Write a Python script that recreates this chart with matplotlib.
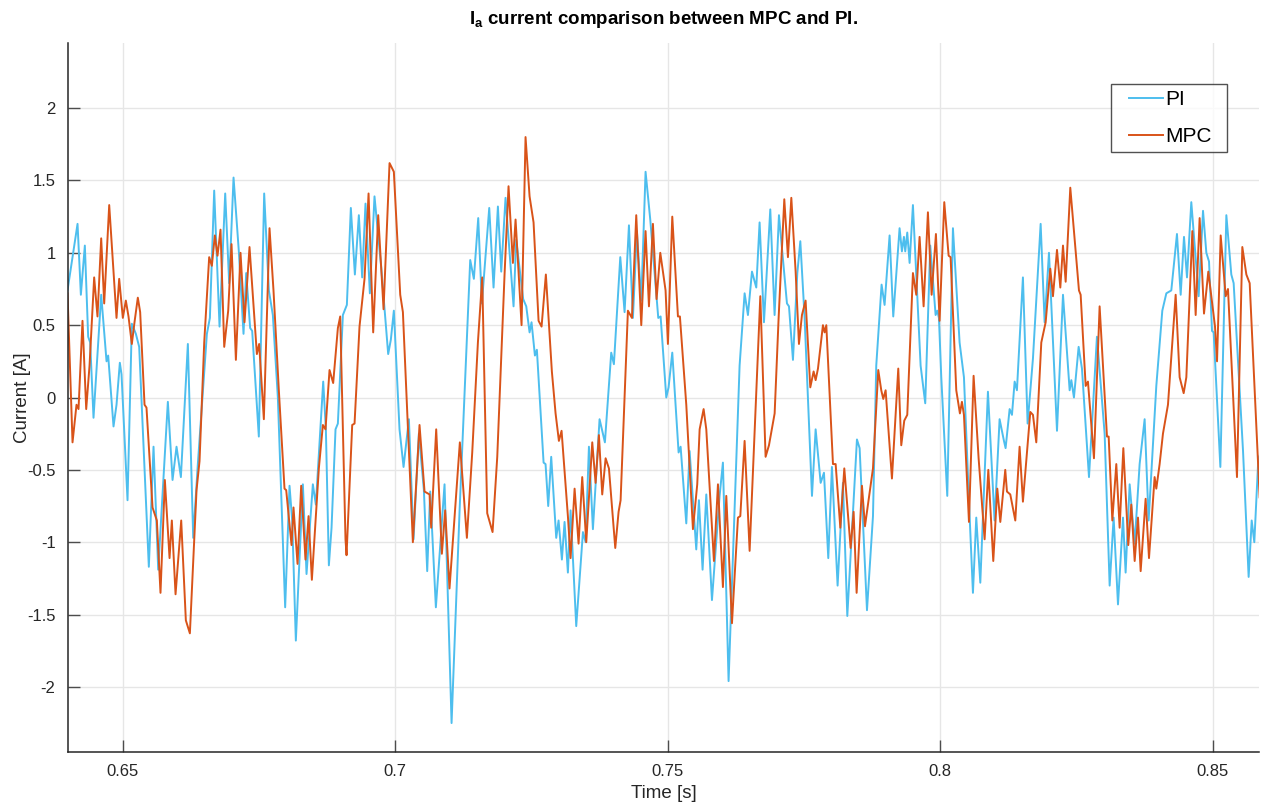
import numpy as np
import matplotlib
matplotlib.use('Agg')
import matplotlib.pyplot as plt
from matplotlib.ticker import FuncFormatter
from matplotlib.legend_handler import HandlerLine2D
from matplotlib.lines import Line2D
from matplotlib.path import Path

plt.rcParams['font.family'] = ['Liberation Sans', 'DejaVu Sans']
plt.rcParams['axes.unicode_minus'] = False
plt.rcParams['mathtext.fontset'] = 'custom'
plt.rcParams['mathtext.bf'] = 'Liberation Sans:bold'
plt.rcParams['mathtext.rm'] = 'Liberation Sans'

# PI current, time in ms
pi_t = [639.91, 641.75, 642.36, 643.09, 643.70, 644.07, 644.68, 646.09, 647.07, 647.37,
        648.35, 648.90, 649.51, 649.82, 650.92, 651.71, 652.45, 653.06, 654.83, 655.69,
        656.55, 658.32, 659.18, 659.91, 660.71, 661.99, 662.97, 663.82, 665.48, 666.03,
        666.82, 667.80, 668.84, 669.57, 670.37, 671.34, 672.20, 672.69, 673.42, 673.79,
        675.01, 675.99, 676.85, 677.58, 678.50, 679.84, 680.64, 681.13, 681.80, 682.66,
        683.09, 683.76, 684.92, 685.47, 686.82, 687.31, 687.86, 688.35, 689.08, 689.51,
        690.43, 691.16, 691.89, 692.63, 693.36, 693.97, 694.58, 695.38, 696.23, 697.46,
        698.74, 699.23, 699.78, 700.82, 701.56, 702.54, 703.39, 704.37, 705.29, 705.90,
        706.45, 707.49, 709.08, 710.37, 711.83, 713.79, 714.46, 715.26, 715.93, 717.28,
        718.07, 718.87, 719.48, 720.27, 721.74, 722.23, 723.51, 724.07, 724.68, 725.04,
        725.66, 726.02, 727.25, 727.61, 728.10, 728.65, 729.57, 730.00, 730.61, 731.10,
        731.71, 732.20, 733.24, 734.47, 734.96, 735.57, 736.30, 737.52, 738.50, 739.66,
        740.15, 741.32, 742.11, 742.91, 743.64, 744.37, 745.17, 745.96, 746.82, 748.29,
        748.72, 749.76, 750.18, 750.86, 752.02, 752.39, 753.43, 754.04, 755.26, 755.75,
        756.42, 757.10, 758.14, 759.54, 760.15, 761.19, 761.99, 763.21, 764.13, 764.74,
        765.48, 766.27, 766.88, 767.68, 768.84, 769.63, 770.43, 771.90, 772.27, 773.00,
        773.80, 774.35, 775.14, 776.49, 777.16, 778.08, 778.69, 779.48, 780.15, 781.19,
        782.17, 782.97, 784.74, 785.23, 786.58, 787.68, 788.28, 789.26, 789.81, 790.73,
        791.40, 792.56, 792.99, 793.36, 793.60, 793.97, 794.40, 795.01, 796.42, 797.27,
        798.19, 799.17, 799.48, 799.78, 800.21, 801.31, 802.35, 803.57, 804.37, 805.41,
        806.02, 806.63, 807.37, 808.77, 809.99, 810.91, 811.71, 812.01, 812.75, 813.18,
        813.67, 814.09, 815.19, 816.05, 817.03, 818.44, 819.17, 819.97, 821.44, 822.54,
        823.76, 824.07, 824.55, 825.41, 826.02, 827.31, 828.77, 830.18, 831.10, 831.83,
        832.63, 833.55, 834.03, 834.77, 835.69, 836.60, 837.52, 838.25, 839.66, 840.76,
        841.50, 842.41, 843.45, 844.13, 844.74, 845.29, 846.08, 847.43, 848.23, 848.84,
        849.33, 849.88, 850.18, 851.41, 852.51, 853.42, 853.85, 855.57, 856.60, 857.16,
        857.64, 858.38, 858.62]
pi_i = [0.74, 1.20, 0.71, 1.05, 0.42, 0.38, -0.14, 0.71, 0.25, 0.29,
        -0.20, -0.05, 0.24, 0.16, -0.71, 0.51, 0.44, 0.35, -1.17, -0.34,
        -1.19, -0.03, -0.57, -0.34, -0.55, 0.37, -0.97, -0.46, 0.44, 0.55,
        1.43, 0.49, 1.41, 0.79, 1.52, 1.01, 0.44, 0.86, 0.48, 0.46,
        -0.27, 1.41, 0.74, 0.57, 0.00, -1.45, -0.61, -0.85, -1.68, -0.96,
        -0.60, -1.22, -0.60, -0.74, 0.11, -0.22, -1.16, -0.90, -0.22, -0.18,
        0.57, 0.64, 1.31, 0.85, 1.26, 0.83, 1.34, 0.72, 1.39, 0.90,
        0.30, 0.40, 0.60, -0.22, -0.48, -0.15, -0.98, -0.25, -0.64, -1.20,
        -0.65, -1.45, -0.60, -2.25, -0.79, 0.95, 0.82, 1.24, 0.65, 1.31,
        0.76, 1.32, 0.87, 1.38, 0.63, 1.09, 0.68, 0.63, 0.45, 0.52,
        0.29, 0.33, -0.45, -0.46, -0.75, -0.41, -0.97, -0.85, -1.12, -0.86,
        -1.21, -0.78, -1.58, -0.93, -1.00, -0.34, -0.91, -0.15, -0.31, 0.31,
        0.23, 0.97, 0.59, 1.19, 0.55, 1.15, 0.67, 1.56, 1.23, 0.55,
        0.56, 0.00, 0.07, 0.31, -0.38, -0.34, -0.87, -0.37, -1.05, -0.71,
        -1.19, -0.67, -1.40, -0.68, -0.45, -1.96, -1.09, 0.22, 0.72, 0.57,
        0.87, 0.76, 1.21, 0.52, 1.30, 0.57, 1.26, 0.65, 0.63, 0.26,
        0.86, 1.08, 0.55, -0.68, -0.22, -0.59, -0.52, -1.11, -0.48, -1.30,
        -0.59, -1.51, -0.29, -0.35, -1.47, -0.82, 0.22, 0.78, 0.64, 1.12,
        0.56, 1.17, 1.01, 1.11, 1.01, 1.14, 0.93, 1.33, 0.22, -0.04,
        1.05, 0.57, 0.60, 0.55, 0.14, -0.68, 1.17, 0.38, 0.14, -0.82,
        -1.35, -0.83, -1.28, 0.04, -0.85, -0.15, -0.30, -0.35, -0.08, -0.12,
        0.11, 0.05, 0.83, -0.18, 0.27, 1.20, 0.52, 1.00, -0.23, 0.71,
        0.05, 0.12, 0.00, 0.35, 0.20, -0.55, 0.42, -0.25, -1.30, -0.83,
        -1.43, -0.83, -1.21, -0.60, -1.01, -0.46, -0.15, -0.85, 0.08, 0.60,
        0.72, 0.74, 1.13, 0.71, 1.11, 0.83, 1.35, 0.70, 1.29, 1.00,
        0.94, 0.46, 0.45, -0.48, 1.26, 0.85, 0.79, -0.37, -1.24, -0.85,
        -1.00, -0.42, -0.40]

# MPC current, time in ms
mpc_t = [639.91, 640.83, 641.56, 641.93, 642.66, 643.34, 643.95, 644.80, 645.41, 646.09,
         646.64, 647.56, 648.90, 649.39, 650.06, 650.61, 651.10, 651.71, 652.20, 652.81,
         653.24, 654.04, 654.40, 655.51, 656.30, 656.97, 657.77, 658.63, 659.05, 659.73,
         660.77, 661.62, 662.36, 663.58, 664.13, 664.99, 665.90, 666.39, 666.94, 667.43,
         667.98, 668.66, 669.39, 670.00, 670.80, 671.65, 672.38, 673.30, 674.65, 675.07,
         675.93, 676.97, 677.70, 678.68, 679.72, 680.03, 681.01, 681.37, 682.11, 682.78,
         683.57, 684.13, 684.74, 686.02, 686.76, 687.24, 687.98, 688.65, 689.51, 689.94,
         690.91, 691.10, 692.14, 692.57, 693.48, 694.40, 695.14, 695.99, 696.91, 697.89,
         698.99, 699.78, 700.95, 701.44, 703.27, 704.49, 705.41, 706.33, 706.63, 707.55,
         708.59, 709.20, 709.99, 711.89, 713.18, 714.16, 715.20, 715.99, 716.91, 717.89,
         718.75, 720.09, 720.82, 721.62, 722.11, 723.21, 723.94, 724.68, 725.41, 726.33,
         726.88, 727.67, 728.77, 729.45, 730.06, 730.55, 731.71, 732.20, 732.94, 733.67,
         734.34, 735.08, 736.18, 736.79, 737.40, 738.01, 738.63, 739.24, 740.40, 741.01,
         741.38, 742.72, 743.46, 744.25, 745.17, 745.96, 746.58, 747.31, 747.98, 748.66,
         749.63, 750.06, 750.86, 751.90, 752.26, 753.43, 754.65, 755.44, 755.88, 756.61,
         757.10, 758.50, 759.24, 760.15, 760.77, 761.81, 762.91, 763.34, 764.13, 765.05,
         767.01, 767.98, 768.60, 769.64, 770.37, 771.41, 772.08, 772.70, 773.49, 774.10,
         774.65, 775.32, 776.18, 776.79, 777.16, 777.59, 778.50, 778.81, 779.12, 780.34,
         780.83, 781.69, 782.42, 783.58, 784.13, 784.68, 785.66, 786.21, 787.68, 788.65,
         789.20, 789.57, 790.00, 791.16, 792.32, 792.87, 793.42, 793.97, 795.01, 795.62,
         796.23, 796.97, 797.76, 798.44, 799.23, 799.90, 800.76, 801.56, 801.92, 802.96,
         803.63, 804.00, 804.37, 805.29, 806.14, 807.06, 808.16, 808.84, 809.75, 810.49,
         811.04, 811.95, 812.26, 812.87, 813.79, 814.58, 815.19, 816.54, 817.03, 817.64,
         818.56, 819.36, 820.21, 820.70, 821.44, 822.05, 822.54, 823.03, 823.88, 825.47,
         825.78, 826.70, 827.12, 828.22, 829.26, 830.61, 830.92, 831.59, 832.32, 832.93,
         833.61, 834.52, 835.07, 835.69, 836.30, 836.79, 837.70, 838.32, 839.35, 839.66,
         840.27, 840.88, 841.80, 843.21, 843.94, 844.68, 845.17, 846.27, 846.88, 847.61,
         848.41, 849.20, 850.43, 850.80, 851.47, 852.39, 852.81, 854.46, 855.44, 856.18,
         856.79, 858.62]
mpc_i = [0.72, -0.31, -0.05, -0.08, 0.53, -0.08, 0.22, 0.83, 0.56, 1.10,
         0.65, 1.33, 0.55, 0.82, 0.55, 0.67, 0.56, 0.37, 0.52, 0.69,
         0.59, -0.05, -0.07, -0.76, -0.85, -1.35, -0.57, -1.11, -0.85, -1.36,
         -0.85, -1.54, -1.63, -0.64, -0.44, 0.38, 0.97, 0.91, 1.12, 0.98,
         1.16, 0.35, 0.60, 1.06, 0.26, 1.00, 0.52, 1.04, 0.30, 0.37,
         -0.15, 1.17, 0.74, 0.05, -0.63, -0.64, -1.02, -0.76, -1.15, -0.61,
         -1.12, -0.82, -1.26, -0.49, -0.19, -0.22, 0.19, 0.10, 0.48, 0.56,
         -0.98, -1.09, -0.19, -0.18, 0.49, 0.82, 1.41, 0.45, 1.26, 0.61,
         1.62, 1.56, 0.71, 0.59, -1.00, -0.19, -0.65, -0.67, -0.90, -0.22,
         -1.08, -0.78, -1.32, -0.31, -0.97, -0.38, 0.38, 0.83, -0.80, -0.93,
         -0.41, 0.85, 1.46, 0.93, 1.23, 0.50, 1.80, 1.39, 1.21, 0.53,
         0.49, 0.85, 0.18, -0.11, -0.30, -0.23, -0.82, -1.11, -0.63, -1.01,
         -0.55, -1.00, -0.31, -0.59, -0.26, -0.67, -0.42, -0.49, -1.04, -0.79,
         -0.71, 0.60, 0.55, 1.26, 0.50, 1.15, 0.63, 1.20, 0.68, 1.00,
         0.74, 0.37, 1.25, 0.56, 0.56, -0.05, -0.91, -0.60, -0.22, -0.08,
         -0.22, -1.13, -0.60, -1.31, -0.68, -1.56, -0.83, -0.82, -0.30, -1.06,
         0.70, -0.41, -0.33, -0.11, 0.55, 1.37, 0.97, 1.38, 0.87, 0.37,
         0.57, 0.67, 0.07, 0.18, 0.12, 0.20, 0.50, 0.45, 0.50, -0.46,
         -0.46, -0.90, -0.49, -1.04, -0.79, -1.35, -0.61, -0.89, -0.49, 0.19,
         0.05, -0.01, 0.05, -0.56, 0.20, -0.33, -0.16, -0.12, 0.86, 0.71,
         1.11, 0.63, 1.28, 0.71, 1.13, 0.53, 1.35, 0.98, 0.97, 0.05,
         -0.11, -0.03, -0.12, -0.86, 0.15, -0.42, -0.98, -0.50, -1.13, -0.63,
         -0.86, -0.50, -0.65, -0.67, -0.85, -0.34, -0.72, -0.10, -0.12, -0.31,
         0.38, 0.52, 0.89, 0.70, 1.02, 0.76, 1.05, 0.80, 1.45, 0.74,
         0.71, 0.08, 0.11, -0.42, 0.63, -0.27, -0.27, -0.85, -0.46, -0.90,
         -0.35, -1.02, -0.74, -1.13, -0.83, -1.20, -0.70, -1.11, -0.55, -0.63,
         -0.46, -0.25, -0.05, 0.71, 0.14, 0.03, 0.14, 1.15, 0.57, 1.24,
         0.58, 0.87, 0.49, 0.25, 1.12, 0.70, 0.75, -0.55, 1.04, 0.85,
         0.79, -0.69]

pi_t = np.array(pi_t) / 1000.0
mpc_t = np.array(mpc_t) / 1000.0


# legend line drawn only on the right part of the handle box (MATLAB look)
class ShortLine(HandlerLine2D):
    def create_artists(self, legend, orig_handle, xdescent, ydescent, width,
                       height, fontsize, trans):
        arts = super().create_artists(legend, orig_handle, xdescent, ydescent,
                                      width, height, fontsize, trans)
        ln = arts[0]
        xd = np.asarray(ln.get_xdata(), float)
        yd = np.asarray(ln.get_ydata(), float)
        x0 = xd[0] + 0.25 * (xd[-1] - xd[0])
        ln.set_data(np.linspace(x0, xd[-1], len(yd)), yd)
        return arts


# frame with extra room on the right side of the labels
def legend_box(x0, y0, width, height, mutation_size):
    x1 = x0 + width + 0.43 * mutation_size
    y1 = y0 + height
    return Path([(x0, y0), (x1, y0), (x1, y1), (x0, y1), (x0, y0)], closed=True)


fig = plt.figure(figsize=(12.61, 8.07), dpi=100)
ax = fig.add_axes([68/1261, 1 - 752/807, (1259 - 68)/1261, (752 - 43)/807])

ax.plot(pi_t, pi_i, color='#4DBEEE', lw=1.4, label='PI')
ax.plot(mpc_t, mpc_i, color='#D95319', lw=1.4, label='MPC')

ax.set_xlim(0.64, 0.8585)
ax.set_ylim(-2.45, 2.45)
ax.set_xticks([0.65, 0.7, 0.75, 0.8, 0.85])
ax.set_yticks(np.arange(-2, 2.01, 0.5))
fmt = FuncFormatter(lambda v, p: '%g' % round(v, 3))
ax.xaxis.set_major_formatter(fmt)
ax.yaxis.set_major_formatter(fmt)

ax.grid(True, color='#E6E6E6', lw=1)
ax.set_axisbelow(True)
for s in ['top', 'right']:
    ax.spines[s].set_visible(False)
for s in ['left', 'bottom']:
    ax.spines[s].set_color('#262626')
    ax.spines[s].set_linewidth(1.1)
ax.tick_params(direction='in', length=8.5, width=1, color='#4D4D4D',
               labelsize=12, labelcolor='#262626', pad=9)

ax.set_xlabel('Time [s]', fontsize=13.5, color='#262626', labelpad=4)
ax.set_ylabel('Current [A]', fontsize=13.5, color='#262626', labelpad=-3)
ax.set_title(r'$\mathbf{I_a}$ current comparison between MPC and PI.',
             fontsize=13.5, fontweight='bold', pad=14)

leg = ax.legend(loc='upper right', bbox_to_anchor=((1218 - 68)/1191, 1 - (84 - 43)/709),
                borderaxespad=0, fontsize=15, frameon=True, fancybox=False,
                handlelength=2.2, borderpad=0.3, labelspacing=0.85, handletextpad=0.1,
                handler_map={Line2D: ShortLine()})
frame = leg.get_frame()
frame.set_boxstyle(legend_box)
frame.set_edgecolor('#262626')
frame.set_linewidth(1)

fig.savefig('out.png', dpi=100)
